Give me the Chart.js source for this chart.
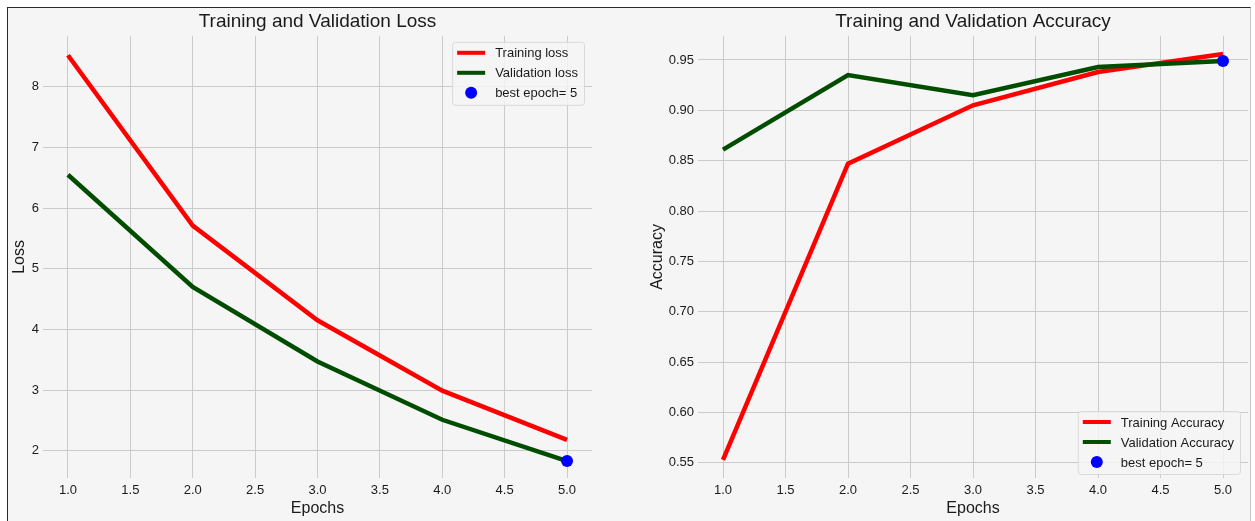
<!DOCTYPE html>
<html>
<head>
<meta charset="utf-8">
<script src="https://cdn.jsdelivr.net/npm/chart.js@4.4.1/dist/chart.umd.min.js"></script>
<style>
  html, body { margin: 0; padding: 0; background: #ffffff; }
  body { width: 1255px; height: 521px; position: relative; overflow: hidden; }
  #figure {
    position: absolute; left: 7px; top: 7px; width: 1242px; height: 520px;
    background: #f5f5f5;
    border-top: 1px solid #2a2a2a; border-left: 1px solid #2a2a2a; border-right: 1px solid #c8c8c8;
  }
  canvas { position: absolute; top: 0; }
  #lossChart { left: 0; }
  #accChart { left: 627px; }
</style>
</head>
<body>
<div id="figure"></div>
<canvas id="lossChart" width="627" height="521"></canvas>
<canvas id="accChart" width="628" height="521"></canvas>
<script>
// Training history per epoch
const epochs = [1, 2, 3, 4, 5];
const trainLoss = [8.52, 5.71, 4.15, 2.99, 2.18];
const valLoss = [6.55, 4.70, 3.47, 2.51, 1.83];
const trainAcc = [0.553, 0.847, 0.905, 0.938, 0.956];
const valAcc = [0.861, 0.935, 0.915, 0.943, 0.949];
const bestEpoch = 5;

// Tick labels
const epochTicks = [1.0, 1.5, 2.0, 2.5, 3.0, 3.5, 4.0, 4.5, 5.0];
const lossTicks = [2, 3, 4, 5, 6, 7, 8];
const accTicks = [0.55, 0.60, 0.65, 0.70, 0.75, 0.80, 0.85, 0.90, 0.95];

const FONT = '"Liberation Sans", Arial, Helvetica, sans-serif';
const TEXT = '#1a1a1a';
const GRID = '#cbcbcb';
const RED = '#ff0000';
const GREEN = '#004d00';
const BLUE = '#0000ff';

const toPoints = (ys) => epochs.map((e, i) => ({ x: e, y: ys[i] }));

// Legend drawn inside the plot area, matplotlib style
const insideLegend = {
  id: 'insideLegend',
  afterDatasetsDraw(chart, args, opts) {
    const { ctx, chartArea } = chart;
    const items = chart.data.datasets.map(d => ({ label: d.label, color: d.borderColor || d.backgroundColor, dot: d.type === 'scatter' }));
    ctx.save();
    ctx.font = '13px ' + FONT;
    const textW = Math.max(...items.map(it => ctx.measureText(it.label).width));
    const padL = 5, swatch = 28, gap = 10, padR = 6, rowH = 20;
    const w = padL + swatch + gap + textW + padR;
    const h = 63;
    const x = chartArea.right - 8 - w;
    const y = opts.corner === 'bottom' ? chartArea.bottom - 4 - h : chartArea.top + 6;
    ctx.beginPath();
    ctx.roundRect(x + 0.5, y + 0.5, w, h, 3);
    ctx.fillStyle = 'rgba(245,245,245,0.85)';
    ctx.fill();
    ctx.strokeStyle = '#d9d9d9';
    ctx.lineWidth = 1;
    ctx.stroke();
    items.forEach((it, i) => {
      const cy = y + 11 + i * rowH;
      if (it.dot) {
        ctx.beginPath();
        ctx.arc(x + padL + swatch / 2, cy, 6, 0, Math.PI * 2);
        ctx.fillStyle = it.color;
        ctx.fill();
      } else {
        ctx.beginPath();
        ctx.moveTo(x + padL, cy);
        ctx.lineTo(x + padL + swatch, cy);
        ctx.strokeStyle = it.color;
        ctx.lineWidth = 4;
        ctx.stroke();
      }
      ctx.fillStyle = TEXT;
      ctx.textBaseline = 'middle';
      ctx.textAlign = 'left';
      ctx.fillText(it.label, x + padL + swatch + gap, cy + 1);
    });
    ctx.restore();
  }
};

function buildChart(canvasId, o) {
  return new Chart(document.getElementById(canvasId), {
    data: {
      datasets: [
        { type: 'line', label: o.trainLabel, data: toPoints(o.train), borderColor: RED, backgroundColor: RED,
          borderWidth: 4.5, pointRadius: 0, tension: 0, order: 3 },
        { type: 'line', label: o.valLabel, data: toPoints(o.val), borderColor: GREEN, backgroundColor: GREEN,
          borderWidth: 4.5, pointRadius: 0, tension: 0, order: 2 },
        { type: 'scatter', label: 'best epoch= ' + bestEpoch, data: [{ x: bestEpoch, y: o.val[bestEpoch - 1] }],
          backgroundColor: BLUE, borderColor: BLUE, pointRadius: 6, pointBorderWidth: 0, order: 1 }
      ]
    },
    options: {
      responsive: false,
      animation: false,
      devicePixelRatio: 1,
      layout: { padding: { left: 0, right: o.padRight, top: 8, bottom: 0 } },
      plugins: {
        legend: { display: false },
        tooltip: { enabled: false },
        title: {
          display: true, text: o.title, fullSize: false, color: TEXT,
          font: { family: FONT, size: 19, weight: 'normal', lineHeight: 1.2 },
          padding: { top: 2, bottom: 3 }
        },
        insideLegend: { corner: o.legendCorner }
      },
      scales: {
        x: {
          type: 'linear', min: 0.8, max: 5.2,
          afterBuildTicks: s => { s.ticks = epochTicks.map(v => ({ value: v })); },
          afterFit: s => { s.height = 43; },
          border: { display: false },
          grid: { color: GRID, lineWidth: 1, drawTicks: false },
          ticks: { color: TEXT, padding: 5, font: { family: FONT, size: 13 }, callback: v => Number(v).toFixed(1) },
          title: { display: true, text: 'Epochs', color: TEXT, font: { family: FONT, size: 16 }, padding: { top: 0, bottom: 3 } }
        },
        y: {
          type: 'linear', min: o.yMin, max: o.yMax,
          afterBuildTicks: s => { s.ticks = o.ticks.map(v => ({ value: v })); },
          afterFit: s => { s.width = o.yWidth; },
          border: { display: false },
          grid: { color: GRID, lineWidth: 1, drawTicks: false },
          ticks: { color: TEXT, padding: 4, font: { family: FONT, size: 13 }, callback: o.fmt },
          title: { display: true, text: o.yTitle, color: TEXT, font: { family: FONT, size: 16 }, padding: { top: o.yTitlePad, bottom: 0 } }
        }
      }
    },
    plugins: [insideLegend]
  });
}

buildChart('lossChart', {
  title: 'Training and Validation Loss',
  trainLabel: 'Training loss', valLabel: 'Validation loss',
  train: trainLoss, val: valLoss,
  yMin: 1.55, yMax: 8.84, ticks: lossTicks, fmt: v => String(Math.round(v)),
  yTitle: 'Loss', yWidth: 43, yTitlePad: 10, padRight: 35, legendCorner: 'top'
});

buildChart('accChart', {
  title: 'Training and Validation Accuracy',
  trainLabel: 'Training Accuracy', valLabel: 'Validation Accuracy',
  train: trainAcc, val: valAcc,
  yMin: 0.535, yMax: 0.974, ticks: accTicks, fmt: v => Number(v).toFixed(2),
  yTitle: 'Accuracy', yWidth: 71, yTitlePad: 21, padRight: 7, legendCorner: 'bottom'
});
</script>
</body>
</html>
